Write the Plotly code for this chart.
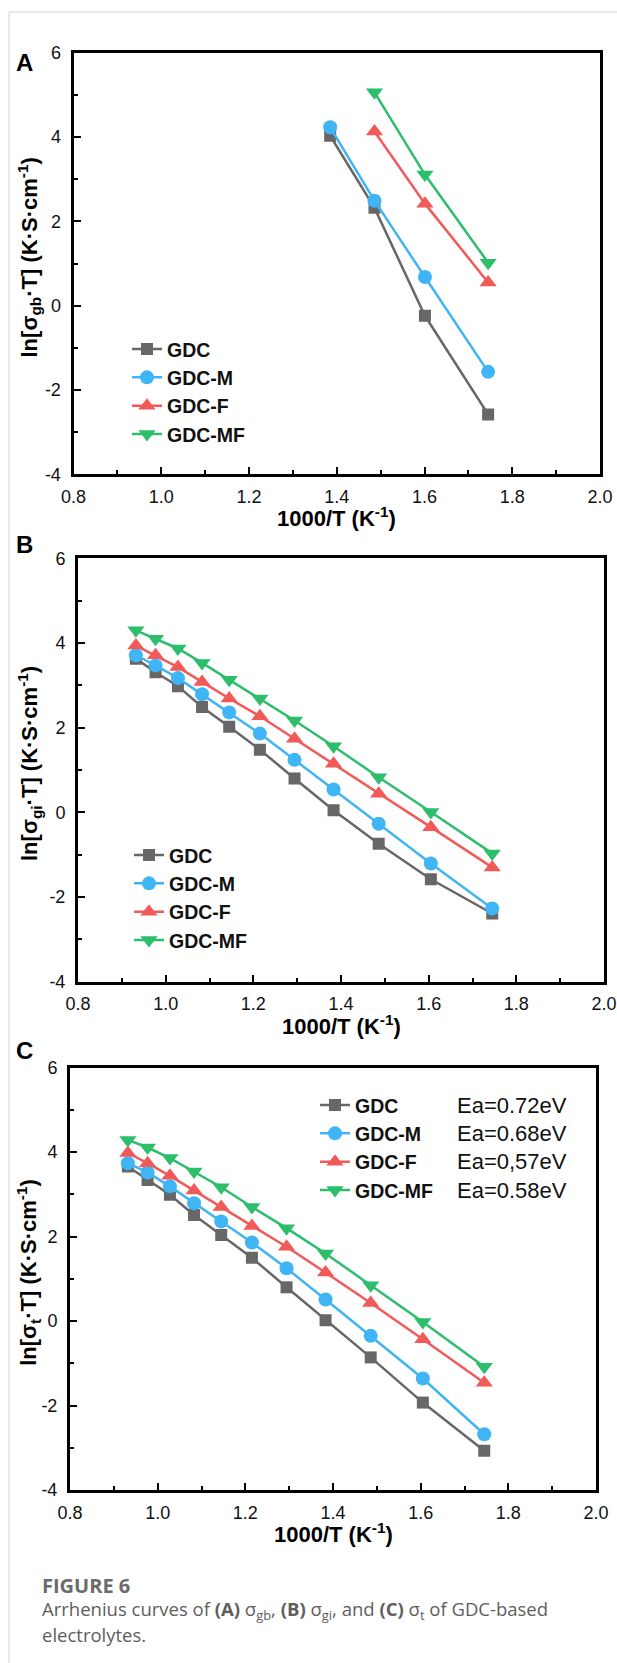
import plotly.graph_objects as go

W, H = 617, 1663

# ---------------- data ----------------
series_names = ["GDC", "GDC-M", "GDC-F", "GDC-MF"]
ea_labels = ["Ea=0.72eV", "Ea=0.68eV", "Ea=0,57eV", "Ea=0.58eV"]

# Panel A: ln(sigma_gb * T)
x_a_gdc = [1.385, 1.486, 1.601, 1.745]
x_a_gdc_m = [1.385, 1.486, 1.601, 1.745]
x_a_gdc_f = [1.486, 1.601, 1.745]
x_a_gdc_mf = [1.486, 1.601, 1.745]
a_gdc = [4.03, 2.32, -0.24, -2.58]
a_gdc_m = [4.23, 2.49, 0.68, -1.57]
a_gdc_f = [4.13, 2.42, 0.55]
a_gdc_mf = [5.06, 3.11, 1.02]

# Panels B and C share temperatures
x_bc = [0.932, 0.977, 1.028, 1.083, 1.145, 1.215, 1.294, 1.383, 1.486, 1.605, 1.745]

# Panel B: ln(sigma_gi * T)
b_gdc = [3.63, 3.31, 2.98, 2.49, 2.02, 1.48, 0.80, 0.05, -0.74, -1.58, -2.39]
b_gdc_m = [3.71, 3.47, 3.17, 2.79, 2.36, 1.86, 1.24, 0.54, -0.27, -1.21, -2.27]
b_gdc_f = [3.94, 3.71, 3.43, 3.08, 2.69, 2.27, 1.74, 1.15, 0.44, -0.35, -1.30]
b_gdc_mf = [4.30, 4.10, 3.87, 3.53, 3.13, 2.69, 2.17, 1.56, 0.83, 0.01, -0.97]

# Panel C: ln(sigma_t * T)
c_gdc = [3.66, 3.34, 2.99, 2.51, 2.04, 1.50, 0.80, 0.02, -0.86, -1.93, -3.07]
c_gdc_m = [3.74, 3.52, 3.19, 2.79, 2.36, 1.86, 1.25, 0.51, -0.35, -1.36, -2.68]
c_gdc_f = [3.98, 3.74, 3.44, 3.09, 2.70, 2.25, 1.76, 1.15, 0.43, -0.43, -1.46]
c_gdc_mf = [4.29, 4.11, 3.86, 3.54, 3.17, 2.70, 2.20, 1.60, 0.85, -0.02, -1.08]

x_tick_vals = [0.8, 1.0, 1.2, 1.4, 1.6, 1.8, 2.0]
x_tick_text = ["0.8", "1.0", "1.2", "1.4", "1.6", "1.8", "2.0"]
y_tick_vals = [-4, -2, 0, 2, 4, 6]
y_tick_text = ["-4", "-2", "0", "2", "4", "6"]

panel_letters = ["A", "B", "C"]
y_title_subs = ["gb", "gi", "t"]
x_title = "<b>1000/T (K<sup>-1</sup>)</b>"

# ---------------- styles ----------------
colors = ["#676767", "#3FB5F5", "#F25A5A", "#2DBE6C"]
symbols = ["square", "circle", "triangle-up", "triangle-down"]
msizes = [12, 14, 15, 15]
FONT = "Liberation Sans, Arial, Helvetica, sans-serif"
LEG_SIZE = 19.5
LEG_ROW = LEG_SIZE * 1.3 + 3

panels = [
    dict(left=73.5, right=600, top=52.7, bottom=474.3, letter_y=62),
    dict(left=78, right=604, top=558.3, bottom=981.7, letter_y=544),
    dict(left=70, right=596, top=1067.7, bottom=1490, letter_y=1050),
]

data_sets = [
    [(x_a_gdc, a_gdc), (x_a_gdc_m, a_gdc_m), (x_a_gdc_f, a_gdc_f), (x_a_gdc_mf, a_gdc_mf)],
    [(x_bc, b_gdc), (x_bc, b_gdc_m), (x_bc, b_gdc_f), (x_bc, b_gdc_mf)],
    [(x_bc, c_gdc), (x_bc, c_gdc_m), (x_bc, c_gdc_f), (x_bc, c_gdc_mf)],
]

def px(x):
    return x / W

def py(y):
    return 1 - y / H

fig = go.Figure()

for i, ds in enumerate(data_sets):
    suffix = "" if i == 0 else str(i + 1)
    for j, (xs, ys) in enumerate(ds):
        fig.add_trace(go.Scatter(
            x=xs, y=ys, mode="lines+markers", name=series_names[j],
            xaxis="x" + suffix, yaxis="y" + suffix,
            legend="legend" + suffix,
            line=dict(color=colors[j], width=2.5),
            marker=dict(symbol=symbols[j], size=msizes[j], color=colors[j],
                        line=dict(width=0)),
        ))

layout = dict(
    width=W, height=H, autosize=False,
    margin=dict(l=0, r=0, t=0, b=0, pad=0, autoexpand=False),
    paper_bgcolor="white", plot_bgcolor="white",
    showlegend=True,
    font=dict(family=FONT, color="#111111"),
)

axis_common = dict(
    showline=True, mirror=True, linecolor="black", linewidth=3,
    showgrid=False, zeroline=False, automargin=False,
    ticks="inside", ticklen=7, tickwidth=2, tickcolor="black",
    tickfont=dict(family=FONT, size=18, color="#111111"),
)

legend_rows = [349, 855, 1105]
legend_text_x = [173, 175, 361]

annotations = []
for i, p in enumerate(panels):
    suffix = "" if i == 0 else str(i + 1)
    layout["xaxis" + suffix] = dict(
        axis_common,
        domain=[px(p["left"]), px(p["right"])],
        anchor="y" + suffix, range=[0.8, 2.0],
        tickvals=x_tick_vals, ticktext=x_tick_text,
        minor=dict(ticks="inside", ticklen=4, tickwidth=2, tickcolor="black", dtick=0.1, tick0=0.8),
        ticklabelstandoff=4,
    )
    layout["yaxis" + suffix] = dict(
        axis_common,
        domain=[py(p["bottom"]), py(p["top"])],
        anchor="x" + suffix, range=[-4, 6],
        tickvals=y_tick_vals, ticktext=y_tick_text,
        minor=dict(ticks="inside", ticklen=4, tickwidth=2, tickcolor="black", dtick=1, tick0=0),
        ticklabelstandoff=6,
    )
    row0 = legend_rows[i]
    layout["legend" + suffix] = dict(
        x=px(legend_text_x[i] - 46), xanchor="left",
        y=py(row0 - LEG_ROW / 2 - 5), yanchor="top",
        bgcolor="rgba(0,0,0,0)", borderwidth=0,
        font=dict(family=FONT, size=LEG_SIZE, color="#111111", weight="bold"),
        tracegroupgap=0, itemwidth=30, traceorder="normal",
    )
    cx = (p["left"] + p["right"]) / 2
    cy = (p["top"] + p["bottom"]) / 2
    annotations.append(dict(
        text="<b>%s</b>" % panel_letters[i], xref="paper", yref="paper",
        x=px(24), y=py(p["letter_y"]),
        xanchor="center", yanchor="middle", showarrow=False,
        font=dict(family=FONT, size=24, color="black"),
    ))
    annotations.append(dict(
        text=x_title, xref="paper", yref="paper",
        x=px(cx), y=py(p["bottom"] + 43), xanchor="center", yanchor="middle",
        showarrow=False, font=dict(family=FONT, size=22, color="black"),
    ))
    annotations.append(dict(
        text="<b>ln[σ<sub>%s</sub>·T] (K·S·cm<sup>-1</sup>)</b>" % y_title_subs[i],
        xref="paper", yref="paper", textangle=-90,
        x=px(29), y=py(cy - 6), xanchor="center", yanchor="middle",
        showarrow=False, font=dict(family=FONT, size=22, color="black"),
    ))

# Activation energies beside the panel C legend rows
for k, lab in enumerate(ea_labels):
    annotations.append(dict(
        text=lab, xref="paper", yref="paper",
        x=px(455), y=py(legend_rows[2] + k * LEG_ROW), xanchor="left", yanchor="middle",
        showarrow=False, font=dict(family=FONT, size=22, color="#111111"),
    ))

CAP_FONT = "Open Sans, Noto Sans, sans-serif"
annotations.append(dict(
    text="<b>FIGURE 6</b>", xref="paper", yref="paper",
    x=px(40), y=py(1585), xanchor="left", yanchor="middle", showarrow=False,
    font=dict(family=CAP_FONT, size=20, color="#6b6b6b"),
))
annotations.append(dict(
    text="Arrhenius curves of <b>(A)</b> σ<sub>gb</sub>, <b>(B)</b> σ<sub>gi</sub>, and <b>(C)</b> σ<sub>t</sub> of GDC-based",
    xref="paper", yref="paper",
    x=px(40), y=py(1610), xanchor="left", yanchor="middle", showarrow=False,
    font=dict(family=CAP_FONT, size=18.5, color="#5e5e5e"),
))
annotations.append(dict(
    text="electrolytes.", xref="paper", yref="paper",
    x=px(40), y=py(1634), xanchor="left", yanchor="middle", showarrow=False,
    font=dict(family=CAP_FONT, size=18.5, color="#5e5e5e"),
))

layout["annotations"] = annotations
layout["shapes"] = [dict(
    type="rect", xref="paper", yref="paper",
    x0=px(9), x1=px(W + 10), y0=py(H + 10), y1=py(12),
    line=dict(color="#d4d4d4", width=1), fillcolor="rgba(0,0,0,0)", layer="below",
)]

fig.update_layout(**layout)

fig.write_html(
    "out.html",
    config={"displayModeBar": False},
    post_script="document.body.style.margin='0';document.body.style.overflow='hidden';",
)
